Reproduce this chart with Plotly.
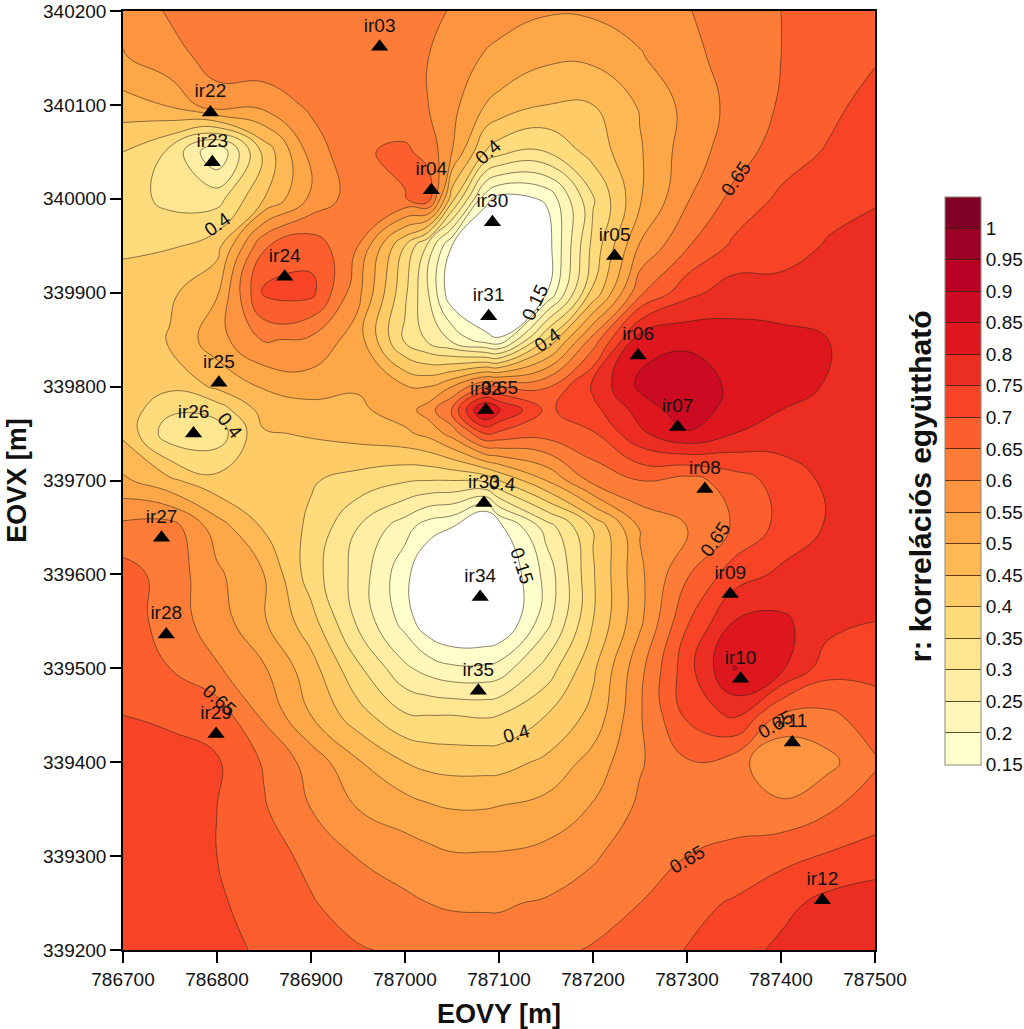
import plotly.graph_objects as go

eovy_grid = [786700, 786750, 786800, 786850, 786900, 786950, 787000, 787025, 787050, 787085, 787100,
             787150, 787200, 787250, 787300, 787350, 787400, 787450, 787500]
eovx_grid = [340200, 340150, 340100, 340050, 340000, 339950, 339900, 339850, 339800, 339775, 339750,
             339700, 339650, 339600, 339550, 339500, 339450, 339400, 339350, 339300, 339250, 339200]
r_grid = [
 [.57,.605,.625,.63,.635,.635,.62,.61,.597,.58,.572,.555,.558,.57,.597,.625,.65,.67,.69],
 [.545,.585,.615,.635,.635,.635,.615,.60,.575,.545,.535,.51,.51,.545,.585,.62,.65,.675,.695],
 [.48,.505,.585,.567,.61,.635,.62,.60,.565,.50,.485,.45,.45,.505,.565,.615,.655,.685,.72],
 [.40,.34,.2,.415,.57,.645,.658,.635,.55,.40,.37,.35,.42,.495,.575,.625,.675,.705,.725],
 [.375,.335,.33,.45,.56,.63,.648,.675,.42,.17,.13,.155,.345,.495,.595,.665,.71,.73,.745],
 [.39,.395,.43,.645,.68,.6,.4,.285,.15,.06,.08,.12,.365,.555,.645,.71,.725,.755,.77],
 [.425,.44,.495,.71,.715,.565,.36,.25,.11,.06,.06,.145,.41,.64,.735,.775,.77,.775,.775],
 [.42,.455,.53,.605,.59,.525,.34,.29,.24,.17,.155,.4,.62,.83,.84,.82,.815,.8,.78],
 [.425,.41,.46,.505,.525,.505,.505,.5,.55,.65,.65,.645,.76,.86,.88,.84,.825,.795,.78],
 [.43,.36,.37,.47,.48,.49,.525,.575,.66,.87,.81,.69,.735,.82,.88,.83,.8,.78,.775],
 [.44,.32,.32,.445,.455,.47,.49,.515,.57,.70,.69,.67,.695,.79,.845,.8,.775,.77,.77],
 [.51,.46,.415,.43,.405,.38,.355,.35,.35,.36,.4,.5,.615,.65,.63,.675,.72,.76,.77],
 [.615,.625,.525,.445,.39,.3,.22,.17,.15,.04,.13,.27,.405,.555,.6,.655,.715,.755,.77],
 [.67,.63,.56,.5,.375,.28,.165,.1,.09,.08,.09,.215,.395,.54,.645,.725,.76,.77,.775],
 [.68,.625,.575,.505,.42,.29,.18,.11,.08,.08,.09,.23,.4,.54,.695,.80,.81,.77,.75],
 [.68,.65,.605,.555,.47,.36,.26,.23,.21,.21,.22,.32,.44,.585,.73,.853,.81,.72,.715],
 [.70,.695,.68,.59,.5,.42,.355,.35,.35,.345,.35,.4,.465,.595,.71,.76,.645,.64,.675],
 [.71,.71,.705,.645,.58,.505,.45,.435,.43,.43,.43,.46,.52,.595,.645,.625,.55,.585,.645],
 [.71,.71,.7,.655,.6,.55,.525,.51,.5,.5,.505,.52,.555,.61,.625,.625,.615,.645,.67],
 [.71,.71,.7,.675,.635,.598,.575,.565,.555,.555,.555,.565,.595,.625,.65,.665,.685,.705,.725],
 [.71,.71,.705,.685,.655,.62,.61,.60,.595,.595,.595,.605,.62,.65,.685,.705,.735,.765,.775],
 [.71,.71,.71,.695,.675,.655,.64,.63,.625,.62,.62,.635,.655,.675,.702,.73,.76,.775,.78],
]

well_names = ["ir03","ir22","ir23","ir04","ir30","ir05","ir24","ir31","ir06","ir25","ir32","ir07",
              "ir26","ir08","ir33","ir27","ir09","ir34","ir28","ir10","ir35","ir29","ir11","ir12"]
well_y = [786973,786793,786795,787028,787093,787223,786872,787089,787248,786802,787086,787290,
          786775,787319,787084,786741,787346,787080,786746,787357,787078,786799,787412,787444]
well_x = [340162,340092,340039,340009,339975,339939,339917,339875,339833,339804,339775,339757,
          339750,339691,339676,339639,339579,339576,339536,339489,339476,339430,339421,339253]

band_colors = ["#FFFFCC","#FFF7B7","#FFEEA3","#FEE590","#FEDB7B","#FECB67","#FEB954","#FEA747","#FD9540",
               "#FD7D38","#FC5E2E","#F74427","#EC2D21","#DE171F","#CC0B22","#BB0026","#9D0026","#800026"]
level_labels = ["0.15","0.2","0.25","0.3","0.35","0.4","0.45","0.5","0.55","0.6","0.65","0.7","0.75",
                "0.8","0.85","0.9","0.95","1"]
level_values = [float(s) for s in level_labels]

label_text = ["0.4","0.4","0.15","0.4","0.65","0.65","0.4","0.4","0.15","0.65","0.65","0.4","0.65","0.65"]
label_y = [786800,787089,787138,787152,787352,787100,786814,787104,787124,787330,786803,787119,787300,787394]
label_x = [339973,340050,339890,339850,340022,339799,339759,339697,339609,339637,339466,339431,339296,339440]
label_angle = [-35,-42,-65,-35,-55,0,52,5,72,-55,42,-15,-30,-30]

FONT = "Liberation Sans"
# white below the first level, then one colour per band
fill_scale = [[0.0, "#FFFFFF"]] + [[(i + 1) / 19, c] for i, c in enumerate(band_colors)] + [[1.0, band_colors[-1]]]
# stepped scale for the key
key_scale = []
for i, c in enumerate(band_colors):
    key_scale += [[i / 18, c], [(i + 1) / 18, c]]

fig = go.Figure()
fig.add_trace(go.Contour(
    x=eovy_grid, y=eovx_grid[::-1], z=r_grid[::-1],
    colorscale=fill_scale, showscale=False,
    contours=dict(start=0.15, end=1.05, size=0.05, coloring="fill", showlines=True),
    line=dict(color="rgba(45,35,25,0.8)", width=0.7, smoothing=1.3),
    hoverinfo="skip",
))
fig.add_trace(go.Scatter(
    x=[well_y[0]], y=[well_x[0]], mode="markers",
    marker=dict(size=1, opacity=0, color=[0.6], cmin=0.15, cmax=1.05, colorscale=key_scale, showscale=True,
                colorbar=dict(
                    thickness=36, thicknessmode="pixels", len=568, lenmode="pixels",
                    x=1.093, xanchor="left", y=0.5, yanchor="middle", xpad=0, ypad=0,
                    outlinewidth=1, outlinecolor="#8a8a80",
                    tickmode="array", tickvals=level_values, ticktext=level_labels,
                    ticks="inside", ticklen=36, tickwidth=0.8, tickcolor="rgba(60,30,10,0.8)",
                    tickfont=dict(family=FONT, size=19, color="#111"),
                )),
    showlegend=False, hoverinfo="skip",
))
fig.add_trace(go.Scatter(
    x=well_y, y=well_x, mode="markers+text", text=well_names, textposition="top center",
    textfont=dict(family=FONT, size=19, color="#111"),
    marker=dict(symbol="triangle-up", size=15, color="black"),
    showlegend=False, hoverinfo="skip", cliponaxis=False,
))
for t, xv, yv, a in zip(label_text, label_y, label_x, label_angle):
    fig.add_annotation(x=xv, y=yv, text=t, textangle=a, showarrow=False,
                       font=dict(family=FONT, size=19, color="#111"))
fig.add_annotation(xref="paper", yref="paper", x=1.06, y=0.494, xanchor="center", yanchor="middle",
                   text="<b>r: korrelációs együttható</b>",
                   textangle=-90, showarrow=False, font=dict(family=FONT, size=30, color="#111"))

axis = dict(showline=True, linecolor="black", linewidth=1.5, mirror=True, ticks="outside",
            ticklen=11, tickwidth=1.5, tickcolor="black", dtick=100, tickformat="d",
            showgrid=False, zeroline=False, automargin=False,
            tickfont=dict(family=FONT, size=19, color="#111"))
fig.update_layout(
    width=1024, height=1029, margin=dict(l=123, r=149, t=11, b=79, autoexpand=False),
    paper_bgcolor="white", plot_bgcolor="white", showlegend=False,
    xaxis=dict(axis, range=[786700, 787500], tick0=786700,
               title=dict(text="<b>EOVY [m]</b>", font=dict(family=FONT, size=27, color="#111"), standoff=16)),
    yaxis=dict(axis, range=[339200, 340200], tick0=339200,
               title=dict(text="<b>EOVX [m]</b>", font=dict(family=FONT, size=27, color="#111"), standoff=9)),
)
fig.write_html("out.html", config=dict(displayModeBar=False),
               post_script="document.body.style.margin='0';")
